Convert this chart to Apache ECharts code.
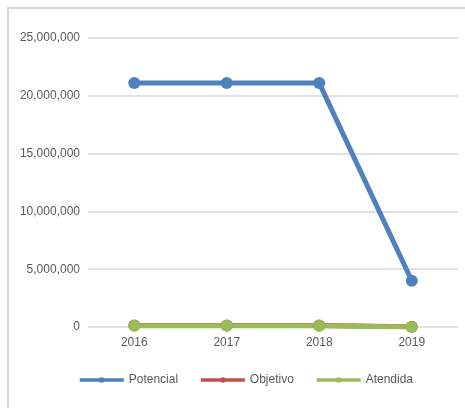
<!DOCTYPE html>
<html lang="es">
<head>
    <meta charset="UTF-8">
    <title>Potencial / Objetivo / Atendida</title>
    <style>
        * { margin: 0; padding: 0; }
        #chart { width: 465px; height: 408px; background: #fff; }
    </style>
</head>
<body>
    <div id="chart"></div>
    <script src="https://cdn.jsdelivr.net/npm/echarts@6/dist/echarts.min.js"></script>
    <script>
        const years = ['2016', '2017', '2018', '2019'];
        const potencial = [21100000, 21100000, 21100000, 4000000];
        const objetivo = [130000, 130000, 130000, 20000];
        const atendida = [110000, 110000, 110000, 10000];

        const font = 'Liberation Sans, Arial, sans-serif';
        const textColor = '#595959';

        function lineSeries(name, color, data) {
            return {
                name: name,
                type: 'line',
                data: data,
                symbol: 'circle',
                symbolSize: 12,
                lineStyle: { width: 5, color: color },
                itemStyle: { color: color },
                emphasis: { disabled: true },
                animation: false
            };
        }

        const chart = echarts.init(document.getElementById('chart'));
        chart.setOption({
            backgroundColor: '#ffffff',
            textStyle: { fontFamily: font },
            // marco del gráfico (sólo se ven el borde superior y el izquierdo)
            graphic: [
                { type: 'line', shape: { x1: 7, y1: 8, x2: 470, y2: 8 }, style: { stroke: '#d9d9d9', lineWidth: 2 }, silent: true },
                { type: 'line', shape: { x1: 8, y1: 7, x2: 8, y2: 420 }, style: { stroke: '#d9d9d9', lineWidth: 2 }, silent: true }
            ],
            grid: { left: 88, right: 7, top: 38, bottom: 81 },
            legend: {
                bottom: 22,
                left: 78,
                padding: 0,
                itemWidth: 44,
                itemHeight: 7,
                itemGap: 21,
                lineStyle: { width: 3.5 },
                textStyle: { color: textColor, fontSize: 12, fontFamily: font },
                data: ['Potencial', 'Objetivo', 'Atendida']
            },
            xAxis: {
                type: 'category',
                data: years,
                axisLine: { show: false },
                axisTick: { show: false },
                axisLabel: { color: textColor, fontSize: 12, margin: 10, fontFamily: font }
            },
            yAxis: {
                type: 'value',
                min: 0,
                max: 25000000,
                interval: 5000000,
                axisLine: { show: false },
                axisTick: { show: false },
                axisLabel: {
                    color: textColor,
                    fontSize: 12,
                    margin: 8,
                    fontFamily: font,
                    formatter: function (v) { return v.toLocaleString('en-US'); }
                },
                splitLine: { lineStyle: { color: '#d9d9d9', width: 1.5 } }
            },
            series: [
                lineSeries('Potencial', '#4F81BD', potencial),
                lineSeries('Objetivo', '#C0504D', objetivo),
                lineSeries('Atendida', '#9BBB59', atendida)
            ]
        });
    </script>
</body>
</html>
